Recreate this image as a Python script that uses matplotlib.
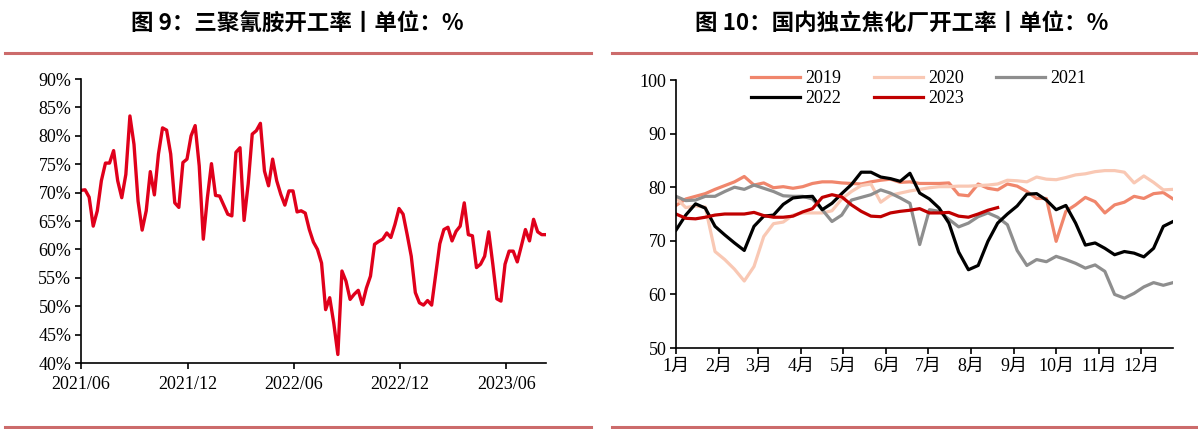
import pandas as pd
import matplotlib
matplotlib.use('Agg')
import matplotlib.pyplot as plt
import matplotlib.dates as mdates
from matplotlib.lines import Line2D

plt.rcParams['font.family'] = ['Liberation Serif', 'Noto Sans CJK SC']

# ---- left chart: melamine operating rate (weekly, %) ----
melamine_start = '2021-06-01'
melamine = [
    70.4, 70.5, 69.2, 64.1, 66.8, 72.1, 75.2, 75.2, 77.4, 72.1,
    69.1, 73.2, 83.5, 78.5, 68.5, 63.4, 66.8, 73.7, 69.6, 76.8,
    81.4, 81.0, 76.8, 68.2, 67.4, 75.3, 75.9, 80.0, 81.8, 74.7,
    61.8, 69.1, 75.1, 69.5, 69.4, 67.8, 66.2, 65.9, 77.1, 77.9,
    65.1, 71.5, 80.3, 80.9, 82.2, 73.8, 71.2, 75.9, 72.1, 69.7,
    67.8, 70.3, 70.3,
    66.6, 66.8, 66.4, 63.5, 61.3, 60.0, 57.6, 49.4, 51.5, 47.0,
    41.5, 56.2, 54.4, 51.2, 52.1, 52.8, 50.3, 53.2, 55.3, 60.9,
    61.4, 61.8, 62.9, 62.1, 64.4, 67.2, 66.2, 62.6, 58.8, 52.4,
    50.6, 50.2, 51.0, 50.2, 55.6, 61.0, 63.5, 63.9, 61.5, 63.2,
    64.1, 68.2, 62.6, 62.4, 56.8, 57.4, 58.8, 63.1, 57.4, 51.3,
    50.9, 57.4, 59.7, 59.7, 57.8, 60.6, 63.5, 61.5, 65.3, 63.1,
    62.6, 62.6,
]
melamine_ticks = ['2021-06-01', '2021-12-01', '2022-06-01', '2022-12-01', '2023-06-01']

# ---- right chart: independent coking plant operating rate (weekly) ----
coke_2019 = [
    76.6, 77.8, 78.3, 78.8, 79.6, 80.3, 81.0, 82.0, 80.4, 80.8,
    79.9, 80.1, 79.8, 80.1, 80.7, 81.0, 81.0, 80.8, 80.7, 80.6,
    81.0, 81.3, 81.5, 80.9, 81.0, 80.7, 80.7, 80.7, 80.8, 78.6,
    78.4, 80.6, 79.8, 79.5, 80.6, 80.2, 79.2, 77.9, 77.9, 69.9,
    75.5, 76.7, 78.1, 77.3, 75.2, 76.7, 77.2, 78.3, 77.9, 78.8,
    79.0, 77.8,
]
coke_2020 = [
    78.0, 76.2, 76.5, 76.3, 68.0, 66.5, 64.7, 62.5, 65.2, 70.8,
    73.2, 73.5, 74.8, 75.2, 75.2, 75.2, 75.6, 77.8, 79.2, 80.3,
    80.6, 77.2, 78.5, 78.9, 79.3, 79.6, 79.9, 80.1, 80.1, 80.2,
    80.2, 80.3, 80.4, 80.6, 81.3, 81.2, 81.0, 81.9, 81.5, 81.4,
    81.8, 82.3, 82.5, 82.9, 83.1, 83.1, 82.8, 80.8, 82.1, 80.9,
    79.5, 79.6,
]
coke_2021 = [
    78.3, 77.5, 77.6, 78.3, 78.3, 79.2, 80.0, 79.6, 80.4, 79.8,
    79.2, 78.4, 78.3, 78.3, 77.8, 75.8, 73.6, 74.8, 77.6, 78.1,
    78.6, 79.5, 78.9, 78.0, 77.0, 69.3, 75.8, 75.5, 74.0, 72.6,
    73.3, 74.5, 75.2, 74.4, 73.0, 68.2, 65.4, 66.5, 66.1, 67.1,
    66.5, 65.8, 64.9, 65.5, 64.3, 60.0, 59.3, 60.2, 61.4, 62.2,
    61.7, 62.2,
]
coke_2022 = [
    72.0, 74.8, 76.9, 76.1, 72.7, 71.1, 69.6, 68.2, 72.7, 74.6,
    74.8, 76.8, 78.0, 78.2, 78.3, 75.8, 77.0, 78.8, 80.5, 82.8,
    82.8, 81.9, 81.6, 81.1, 82.6, 78.9, 77.8, 76.1, 73.3, 67.9,
    64.6, 65.4, 69.9, 73.3, 75.0, 76.5, 78.7, 78.8, 77.6, 75.8,
    76.6, 73.3, 69.2, 69.6, 68.6, 67.4, 68.0, 67.7, 67.0, 68.6,
    72.7, 73.6,
]
coke_2023 = [
    75.0, 74.2, 74.1, 74.4, 74.8, 75.0, 75.0, 75.0, 75.3, 74.7,
    74.4, 74.4, 74.6, 75.4, 76.0, 78.1, 78.6, 78.2, 76.7, 75.5,
    74.6, 74.5, 75.2, 75.5, 75.7, 76.0, 75.2, 75.2, 75.3, 74.6,
    74.4, 75.0, 75.7, 76.2,
]
month_days = [0, 31, 59, 90, 120, 151, 181, 212, 243, 273, 304, 334]
month_labels = ['1月', '2月', '3月', '4月', '5月', '6月',
                '7月', '8月', '9月', '10月', '11月', '12月']

years = ['2019', '2020', '2021', '2022', '2023']
colors = ['#F0866C', '#F9C8B4', '#8E8E8E', '#000000', '#C00000']
series = [coke_2019, coke_2020, coke_2021, coke_2022, coke_2023]

fig = plt.figure(figsize=(11.98, 4.29), dpi=100)

title_font = dict(family=['Noto Sans CJK SC', 'DejaVu Sans'], fontweight='bold', fontsize=16.2)
fig.text(0.248, 0.946, '图 9：三聚氰胺开工率丨单位：%', ha='center', va='center', **title_font)
fig.text(0.753, 0.946, '图 10：国内独立焦化厂开工率丨单位：%', ha='center', va='center', **title_font)

rule_color = '#CC6B6B'
for x0, x1 in [(0.004, 0.493), (0.511, 1.0)]:
    for yy in [0.876, 0.005]:
        fig.add_artist(Line2D([x0, x1], [yy, yy], color=rule_color, lw=2.2,
                              transform=fig.transFigure))

# left chart
ax1 = fig.add_axes([0.0676, 0.1538, 0.388, 0.662])
dates = pd.date_range(melamine_start, periods=len(melamine), freq='7D')
ax1.plot(dates, melamine, color='#E0001B', lw=2.4)
ax1.set_ylim(40, 90)
ax1.set_yticks(range(40, 91, 5))
ax1.set_yticklabels([f'{v}%' for v in range(40, 91, 5)])
ax1.set_xlim(dates[0], dates[-1])
ax1.set_xticks(pd.to_datetime(melamine_ticks))
ax1.xaxis.set_major_formatter(mdates.DateFormatter('%Y/%m'))

# right chart
ax2 = fig.add_axes([0.5643, 0.1888, 0.4149, 0.6247])
for yr, col, vals in zip(years, colors, series):
    days = [7 * i for i in range(len(vals))]
    ax2.plot(days, vals, color=col, lw=2.3, label=yr)
ax2.set_ylim(50, 100)
ax2.set_yticks(range(50, 101, 10))
ax2.set_xlim(0, 357)
ax2.set_xticks(month_days)
ax2.set_xticklabels(month_labels)

handles, labels = ax2.get_legend_handles_labels()
order = [0, 3, 1, 4, 2]
ax2.legend([handles[i] for i in order], [labels[i] for i in order],
           ncol=3, frameon=False, fontsize=13, loc='center left',
           bbox_to_anchor=(0.627, 0.793), bbox_transform=fig.transFigure,
           borderaxespad=0, borderpad=0, handlelength=2.7, handletextpad=0.3,
           columnspacing=1.8, labelspacing=0.15)

for ax in (ax1, ax2):
    for s in ('top', 'right'):
        ax.spines[s].set_visible(False)
    for s in ('left', 'bottom'):
        ax.spines[s].set_linewidth(1.2)
    ax.tick_params(direction='out', length=4, width=1.2, labelsize=13, pad=3)
ax1.tick_params(axis='x', pad=5)

fig.savefig('out.png', dpi=100)
